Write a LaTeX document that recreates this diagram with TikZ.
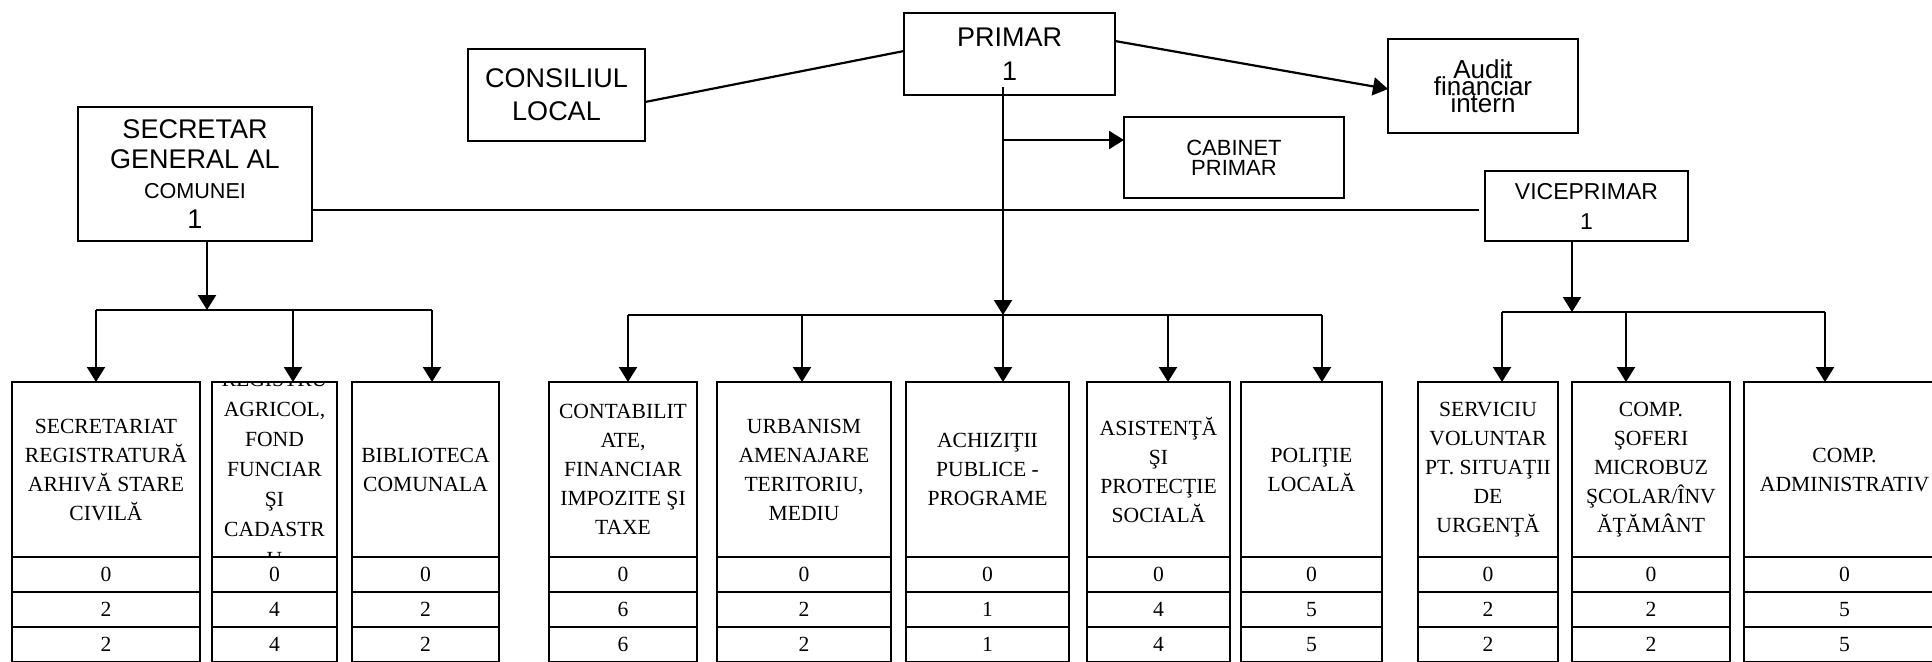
\documentclass[tikz,border=0pt]{standalone}
\usepackage{fontspec}
\setmainfont{Liberation Serif}
\newfontfamily\sansf{Liberation Sans}
\usetikzlibrary{arrows.meta}
\newcommand\tightls{\lineskiplimit-20pt\relax}
\newcommand\dept[7]{%
  \pgfmathsetmacro\dcx{(#2+#3)/2}%
  \pgfmathsetmacro\dwd{(#3-#2)*0.5}%
  \node[head, minimum width=\dwd pt] (#1) at (\dcx,469.5) {#4};
  \node[cell, minimum width=\dwd pt, anchor=north] (#1a) at (#1.south) {#5};
  \node[cell, minimum width=\dwd pt, anchor=north] (#1b) at (#1a.south) {#6};
  \node[cell, minimum width=\dwd pt, anchor=north] (#1c) at (#1b.south) {#7};
}
\begin{document}
\begin{tikzpicture}[x=0.5pt,y=-0.5pt,
  tbox/.style={draw, line width=1.2pt, inner sep=1pt, outer sep=0pt, align=center},
  head/.style={draw, line width=1.2pt, inner sep=1pt, outer sep=0pt, minimum height=87.5pt, align=center,
    font=\fontsize{10.8}{14.5}\selectfont},
  cell/.style={draw, line width=1.2pt, inner sep=0pt, outer sep=0pt, minimum height=17.5pt,
    font=\fontsize{10.8}{14.5}\selectfont},
  ln/.style={line width=1.1pt},
  arr/.style={ln, -{Triangle[width=9pt,length=7.5pt]}}]
\useasboundingbox (0,0) rectangle (1932,661);
\clip (0,0) rectangle (1932,661);

% top boxes
\node[tbox, minimum width=88.5pt, minimum height=46pt, font={\sansf\fontsize{13.5}{16.5}\selectfont}] (cons) at (556.5,95) {CONSILIUL\\LOCAL};
\node[tbox, minimum width=105.5pt, minimum height=41pt, font={\sansf\fontsize{13.5}{17}\selectfont}] (prim) at (1009.5,54) {PRIMAR\\1};
\node[tbox, minimum width=95pt, minimum height=47pt, font={\sansf\fontsize{13}{8.5}\selectfont\tightls}] (audit) at (1483,86) {Audit\\financiar\\intern};
\node[tbox, minimum width=110pt, minimum height=40.5pt, font={\sansf\fontsize{11}{10}\selectfont\tightls}] (cab) at (1234,157.5) {CABINET\\PRIMAR};
\node[tbox, minimum width=117pt, minimum height=67pt, font={\sansf\fontsize{13.5}{15}\selectfont}] (sec) at (195,174) {SECRETAR\\GENERAL AL\\{\fontsize{10.8}{15}\selectfont COMUNEI}\\1};
\node[tbox, minimum width=101.5pt, minimum height=35pt, font={\sansf\fontsize{11.5}{15}\selectfont}] (vice) at (1586.5,206) {VICEPRIMAR\\1};

% departments
\dept{b1}{12}{200}{SECRETARIAT\\REGISTRATURĂ\\ARHIVĂ STARE\\CIVILĂ}{0}{2}{2}
\dept{b2}{212}{337}{}{0}{4}{4}
\dept{b3}{352}{499}{BIBLIOTECA\\COMUNALA}{0}{2}{2}
\dept{b4}{549}{697}{CONTABILIT\\ATE,\\FINANCIAR\\IMPOZITE ŞI\\TAXE}{0}{6}{6}
\dept{b5}{717}{891}{URBANISM\\AMENAJARE\\TERITORIU,\\MEDIU}{0}{2}{2}
\dept{b6}{906}{1069}{ACHIZIŢII\\PUBLICE -\\PROGRAME}{0}{1}{1}
\dept{b7}{1087}{1230}{ASISTENŢĂ\\ŞI\\PROTECŢIE\\SOCIALĂ}{0}{4}{4}
\dept{b8}{1241}{1382}{POLIŢIE\\LOCALĂ}{0}{5}{5}
\dept{b9}{1418}{1558}{SERVICIU\\VOLUNTAR\\PT. SITUAŢII\\DE\\URGENŢĂ}{0}{2}{2}
\dept{b10}{1572}{1730}{COMP.\\ŞOFERI\\MICROBUZ\\ŞCOLAR/ÎNV\\ĂŢĂMÂNT}{0}{2}{2}
\dept{b11}{1744}{1945}{COMP.\\ADMINISTRATIV}{0}{5}{5}

\begin{scope}
\clip (b2.south west) rectangle (b2.north east);
\node[align=center, inner sep=0pt, font={\fontsize{10.8}{15}\selectfont}] (b2t) at (b2.center) {REGISTRU\\AGRICOL,\\FOND\\FUNCIAR\\ŞI\\CADASTR\\U};
\end{scope}

% top connectors
\draw[ln] ([yshift=-3.5pt]cons.east) -- ([yshift=1.5pt]prim.west);
\draw[arr] ([yshift=6.5pt]prim.east) -- ([yshift=-1.5pt]audit.west);
\coordinate (H) at (0,210);
\draw[ln] (sec.east |- H) -- ([xshift=-3pt]vice.west |- H);

% left group
\coordinate (Ls) at (207,310);
\coordinate (L1) at (96,310);
\coordinate (L2) at (293,310);
\coordinate (L3) at (432,310);
\draw[arr] (Ls |- sec.south) -- (Ls);
\draw[ln] (L1) -- (L3);
\draw[arr] (L1) -- (L1 |- b1.north);
\draw[arr] (L2) -- (L2 |- b2.north);
\draw[arr] (L3) -- (L3 |- b3.north);

% center group
\coordinate (C1) at (628,315);
\coordinate (C2) at (802,315);
\coordinate (C3) at (1003,315);
\coordinate (C4) at (1168,315);
\coordinate (C5) at (1322,315);
\coordinate (T) at (1003,140);
\draw[arr] ([yshift=4pt]prim.south -| C3) -- (C3);
\draw[arr] (T) -- (T -| cab.west);
\draw[ln] (C1) -- (C5);
\draw[arr] (C1) -- (C1 |- b4.north);
\draw[arr] (C2) -- (C2 |- b5.north);
\draw[arr] (C3) -- (C3 |- b6.north);
\draw[arr] (C4) -- (C4 |- b7.north);
\draw[arr] (C5) -- (C5 |- b8.north);

% right group
\coordinate (Rv) at (1572,312);
\coordinate (R1) at (1502,312);
\coordinate (R2) at (1626,312);
\coordinate (R3) at (1825,312);
\draw[arr] (Rv |- vice.south) -- (Rv);
\draw[ln] (R1) -- (R3);
\draw[arr] (R1) -- (R1 |- b9.north);
\draw[arr] (R2) -- (R2 |- b10.north);
\draw[arr] (R3) -- (R3 |- b11.north);
\end{tikzpicture}
\end{document}
